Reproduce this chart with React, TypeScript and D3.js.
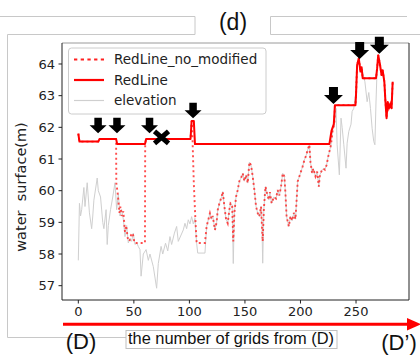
import React from 'react';
import * as d3 from 'd3';

const xTicks = [0, 50, 100, 150, 200, 250];
const yTicks = [57, 58, 59, 60, 61, 62, 63, 64];

const elevGrid = [0, 1, 2, 3, 5, 6, 8, 10, 12, 13, 14, 17, 18, 20, 22, 23, 25, 26, 27, 29, 31, 33, 34.5, 36, 37.5, 39, 40.5, 42, 43.5, 45, 46.5, 48, 49.5, 51, 52.5, 54, 55.5, 56.5, 58.5, 61, 63, 64.5, 67.5, 70.5, 72, 74.5, 76, 78.5, 80.5, 82.5, 84, 86.5, 88.5, 90, 92.5, 94.5, 96, 97.5, 99, 100.5, 102, 103.5, 105, 106.5, 107.5, 114, 115.5, 117, 118.5, 120, 121, 123, 124.5, 125.5, 127, 129, 130, 131.5, 133, 134.5, 136, 137, 138.5, 139.5, 140.5, 142, 143.5, 145, 146.5, 148, 149.5, 151, 152.5, 154, 155.5, 157, 158.5, 160, 161.5, 163, 164.5, 165.3, 166, 167, 168.5, 170, 171.5, 172.5, 174, 176, 178, 179.5, 181, 182.5, 184, 185.5, 186.5, 187.5, 189.5, 191, 192.5, 194, 195.5, 197.5, 199, 200.5, 202, 203.5, 205, 206.5, 208, 209, 210.5, 211.5, 213.5, 215, 216.5, 217.5, 219.5, 220.5, 222, 223.5, 225, 227.5, 229, 230.5, 232, 233, 235, 236.5, 237.5, 239, 241, 242, 243.5, 245.5, 246.5, 248, 249.5, 251, 252.5, 254, 255, 256.5, 258, 260, 261.5, 263, 264.5, 266, 267, 268, 269, 270, 271.5, 273, 274, 275.5, 276.5, 277.5, 278.5, 279.5, 281, 282, 283];
const elevValue = [57.8, 59.6, 59.2, 59.4, 60.1, 59.5, 60.25, 59.3, 58.8, 59.2, 59.7, 60.4, 60.0, 59.8, 59.0, 58.8, 59.4, 58.3, 58.9, 59.4, 59.8, 60.25, 59.4, 59.9, 59.2, 59.4, 59.1, 58.55, 58.9, 58.35, 58.5, 58.4, 58.66, 58.3, 58.35, 58.24, 58.14, 57.3, 58.0, 58.14, 57.8, 58.0, 57.6, 56.92, 57.7, 58.24, 58.0, 58.34, 58.1, 58.55, 58.3, 58.66, 58.87, 58.4, 58.6, 58.76, 58.97, 58.8, 59.08, 58.95, 59.18, 58.95, 59.13, 58.34, 58.03, 58.03, 58.87, 59.08, 59.29, 59.1, 59.2, 58.76, 59.0, 59.39, 59.6, 59.81, 59.97, 59.5, 59.1, 58.97, 59.4, 59.6, 59.55, 57.7, 59.3, 59.81, 60.02, 60.3, 60.4, 60.55, 60.3, 60.5, 60.24, 60.9, 60.8, 60.45, 60.02, 59.5, 59.29, 59.18, 59.5, 58.9, 57.71, 59.4, 60.13, 59.9, 59.71, 59.95, 59.6, 59.8, 59.75, 60.02, 59.85, 60.13, 60.55, 60.45, 59.9, 59.18, 58.87, 59.2, 59.05, 59.3, 59.1, 60.29, 60.45, 60.61, 60.77, 60.97, 61.1, 61.29, 61.45, 60.9, 60.55, 60.7, 60.45, 60.6, 60.13, 60.5, 60.66, 60.7, 60.66, 60.81, 61.08, 61.45, 61.92, 62.08, 62.6, 61.45, 60.5, 62.29, 62.0, 61.45, 60.71, 61.5, 61.87, 62.1, 62.5, 62.6, 63.02, 63.97, 64.18, 63.76, 63.9, 63.65, 63.44, 62.81, 63.1, 62.6, 61.97, 61.55, 61.45, 62.8, 63.86, 64.28, 64.0, 63.65, 63.8, 63.44, 62.81, 62.29, 62.8, 62.6, 62.75, 62.6, 63.44];

const redGrid = [0, 1, 18, 19, 34, 35, 60, 61, 101, 102, 104, 105, 226, 228, 230, 231, 249.5, 250, 251, 252.5, 254, 255, 256, 268, 269, 270, 271.5, 273, 274, 275.5, 276.5, 277.5, 278.5, 279.5, 281, 282, 283];
const redValue = [61.8, 61.55, 61.55, 61.63, 61.63, 61.47, 61.47, 61.63, 61.63, 62.2, 62.2, 61.47, 61.47, 61.9, 62.1, 62.7, 62.7, 63.02, 63.97, 64.18, 63.76, 63.9, 63.55, 63.55, 63.86, 64.28, 64.0, 63.65, 63.8, 63.44, 62.81, 62.29, 62.8, 62.6, 62.75, 62.6, 63.44];

const rawGrid = [0, 1, 18, 19, 34, 34.2, 35.5, 37, 38, 39, 40.5, 42, 43, 44.5, 46, 47.5, 49, 50.5, 60, 60.2, 61, 101, 102, 102.5, 104, 105.5, 106.5, 114, 115.5, 117, 118.5, 120, 121, 123, 124.5, 125.5, 127, 129, 130, 131.5, 133, 134.5, 136, 137, 138.5, 139.5, 140.5, 142, 143.5, 145, 146.5, 148, 149.5, 151, 152.5, 154, 155.5, 157, 158.5, 160, 161.5, 163, 164.5, 165.3, 166, 167, 168.5, 170, 171.5, 172.5, 174, 176, 178, 179.5, 181, 182.5, 184, 185.5, 186.5, 187.5, 189.5, 191, 192.5, 194, 195.5, 197.5, 199, 200.5, 202, 203.5, 205, 206.5, 208, 209, 210.5, 211.5, 213.5, 215, 216.5, 217.5, 219.5, 220.5, 222, 223.5, 225, 227.5, 229, 230.5, 231, 249.5, 250, 251, 252.5, 254, 255, 256, 268, 269, 270, 271.5, 273, 274, 275.5, 276.5, 277.5, 278.5, 279.5, 281, 282, 283];
const rawValue = [61.8, 61.55, 61.55, 61.63, 61.63, 60.24, 59.9, 59.3, 59.5, 59.2, 59.35, 58.7, 58.9, 58.5, 58.4, 58.6, 58.66, 58.35, 58.35, 61.47, 61.63, 61.63, 62.2, 62.0, 60.2, 59.0, 58.35, 58.35, 58.87, 59.08, 59.29, 59.1, 59.2, 58.76, 59.0, 59.39, 59.6, 59.81, 59.97, 59.5, 59.1, 58.97, 59.4, 59.6, 59.55, 58.4, 59.3, 59.81, 60.02, 60.3, 60.4, 60.55, 60.3, 60.5, 60.24, 60.9, 60.8, 60.45, 60.02, 59.5, 59.29, 59.18, 59.5, 58.9, 58.4, 59.4, 60.13, 59.9, 59.71, 59.95, 59.6, 59.8, 59.75, 60.02, 59.85, 60.13, 60.55, 60.45, 59.9, 59.18, 58.87, 59.2, 59.05, 59.3, 59.1, 60.29, 60.45, 60.61, 60.77, 60.97, 61.1, 61.29, 61.45, 60.9, 60.55, 60.7, 60.45, 60.6, 60.13, 60.5, 60.66, 60.7, 60.66, 60.81, 61.08, 61.45, 61.92, 62.1, 62.7, 62.7, 63.02, 63.97, 64.18, 63.76, 63.9, 63.55, 63.55, 63.86, 64.28, 64.0, 63.65, 63.8, 63.44, 62.81, 62.29, 62.8, 62.6, 62.75, 62.6, 63.44];

const arrowGrid = [17.8, 34.8, 64.1, 103.3, 229.7, 253.3, 271];
const arrowValue = [61.81, 61.81, 61.81, 62.29, 62.74, 64.16, 64.32];
const crossGrid = [74.9];
const crossValue = [61.68];

const legendLabels = ['RedLine_no_modified', 'RedLine', 'elevation'];
const titleText = '(d)';
const yLabel = 'water  surface(m)';
const xLabel = 'the number of grids from (D)';
const startLabel = '(D)';
const endLabel = '(D\u2019)';

const zip = (g: number[], v: number[]): [number, number][] => g.map((gi, k) => [gi, v[k]]);

function arrowPath(cx: number, tip: number, big: boolean) {
  const W = big ? 19 : 17;
  const H = big ? 17 : 15.5;
  const S = big ? 9 : 7.5;
  const hh = big ? 9 : 8;
  const top = tip - H;
  const hb = tip - hh;
  return `M${cx - S / 2},${top} H${cx + S / 2} V${hb} H${cx + W / 2} L${cx},${tip} L${cx - W / 2},${hb} H${cx - S / 2} Z`;
}

export default function App() {
  const x = d3.scaleLinear().domain([-14.7, 297.7]).range([62, 409]);
  const y = d3.scaleLinear().domain([56.548, 64.663]).range([300, 43]);
  const line = d3.line<[number, number]>().x(d => x(d[0])).y(d => y(d[1]));
  const elevPath = line(zip(elevGrid, elevValue)) || '';
  const redPath = line(zip(redGrid, redValue)) || '';
  const rawPath = line(zip(rawGrid, rawValue)) || '';
  const tickFont = 'DejaVu Sans, sans-serif';
  const [x0, x1] = x.range();
  const [yb, yt] = y.range();

  return (
    <svg width={420} height={356} style={{ position: 'absolute', left: 0, top: 0, background: '#fff' }}>
      <rect width={420} height={356} fill="#fff" />
      <g fill="none" stroke="#c8c8c8" strokeWidth={1}>
        <path d="M0,16.5 H195 V34.5 H7.5 V337.5 H126" />
        <path d="M407,16.5 H270.5 V34.5 H420" />
      </g>
      <text x={233} y={30} textAnchor="middle" fontFamily="Liberation Sans, Arial, sans-serif" fontSize={23} fill="#111">{titleText}</text>

      <line x1={x0} x2={x1} y1={yt} y2={yt} stroke="#9a9a9a" strokeWidth={1} />
      <line x1={x0} x2={x0} y1={yt} y2={yb} stroke="#222" strokeWidth={1} />
      <line x1={x1} x2={x1} y1={yt} y2={yb} stroke="#222" strokeWidth={1} />
      <line x1={x0} x2={x1} y1={yb} y2={yb} stroke="#222" strokeWidth={1} />

      {yTicks.map(t => (
        <g key={'y' + t}>
          <line x1={x0 - 3.5} x2={x0} y1={y(t)} y2={y(t)} stroke="#222" />
          <text x={x0 - 7} y={y(t)} dy="0.36em" textAnchor="end" fontFamily={tickFont} fontSize={13} fill="#222">{t}</text>
        </g>
      ))}
      {xTicks.map(t => (
        <g key={'x' + t}>
          <line x1={x(t)} x2={x(t)} y1={yb} y2={yb + 3.5} stroke="#222" />
          <text x={x(t)} y={yb + 16} textAnchor="middle" fontFamily={tickFont} fontSize={13} fill="#222">{t}</text>
        </g>
      ))}
      <text transform="translate(26,187) rotate(-90)" textAnchor="middle" fontFamily={tickFont} fontSize={14.5} fill="#222" style={{ whiteSpace: 'pre' }}>{yLabel}</text>

      <path d={elevPath} fill="none" stroke="#cfcfcf" strokeWidth={1} strokeLinejoin="round" />
      <path d={rawPath} fill="none" stroke="#ff2020" strokeOpacity={0.8} strokeWidth={1.9} strokeDasharray="2,3" />
      <path d={redPath} fill="none" stroke="#ff0000" strokeWidth={2} strokeLinejoin="round" />

      <rect x={68.5} y={48} width={197.5} height={66} rx={3} fill="#fff" fillOpacity={0.85} stroke="#cccccc" />
      {legendLabels.map((lab, k) => {
        const ly = 59.5 + k * 20.5;
        return (
          <g key={lab}>
            {k === 0 && <line x1={74} x2={104} y1={ly} y2={ly} stroke="#ff2020" strokeWidth={2.2} strokeDasharray="3.3,3.4" />}
            {k === 1 && <line x1={74} x2={104} y1={ly} y2={ly} stroke="#ff0000" strokeWidth={2.2} />}
            {k === 2 && <line x1={74} x2={104} y1={ly} y2={ly} stroke="#cfcfcf" strokeWidth={1.2} />}
            <text x={114} y={ly} dy="0.36em" fontFamily={tickFont} fontSize={13.5} fill="#222">{lab}</text>
          </g>
        );
      })}

      {arrowGrid.map((g, k) => (
        <path key={'a' + k} d={arrowPath(x(g), y(arrowValue[k]), g > 200)} fill="#000" />
      ))}
      {crossGrid.map((g, k) => {
        const cx = x(g), cy = y(crossValue[k]);
        return (
          <path key={'c' + k} d={`M${cx - 7},${cy - 6} L${cx + 7},${cy + 6} M${cx - 7},${cy + 6} L${cx + 7},${cy - 6}`} stroke="#000" strokeWidth={5} fill="none" />
        );
      })}

      <line x1={63} x2={409} y1={324.3} y2={324.3} stroke="#ff0000" strokeWidth={3} />
      <path d="M407,318 L421,324.3 L407,330.6 Z" fill="#ff0000" />
      <text x={81} y={348.5} textAnchor="middle" fontFamily="Liberation Sans, Arial, sans-serif" fontSize={22} fill="#111">{startLabel}</text>
      <text x={399} y={350} textAnchor="middle" fontFamily="Liberation Sans, Arial, sans-serif" fontSize={22} fill="#111">{endLabel}</text>
      <rect x={126} y={330.5} width={211} height={18} fill="#fff" stroke="#c0c0c0" />
      <text x={128} y={344} fontFamily="Liberation Sans, Arial, sans-serif" fontSize={16} textLength={206} lengthAdjust="spacingAndGlyphs" fill="#111">{xLabel}</text>
    </svg>
  );
}
